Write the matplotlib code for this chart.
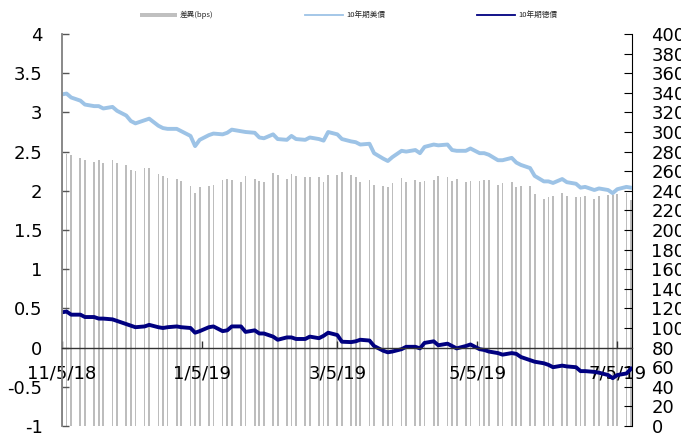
import numpy as np
import pandas as pd
import matplotlib
matplotlib.use("Agg")
import matplotlib.pyplot as plt
from matplotlib.lines import Line2D
from matplotlib.patches import Rectangle

plt.rcParams['axes.unicode_minus'] = False

# trading days (every 2nd business day) from 11/5/18 to 7/11/19
dates = pd.date_range('2018-11-05', '2019-07-11', freq='2B')

# 10Y US treasury yield (%)
us_10y = [3.23, 3.24, 3.19, 3.15, 3.10, 3.08, 3.08, 3.05, 3.07, 3.02,
          2.96, 2.89, 2.86, 2.90, 2.92, 2.83, 2.80, 2.79, 2.79, 2.76,
          2.70, 2.57, 2.65, 2.71, 2.73, 2.72, 2.74, 2.78, 2.76, 2.75,
          2.74, 2.68, 2.67, 2.72, 2.66, 2.65, 2.70, 2.66, 2.65, 2.68,
          2.66, 2.64, 2.75, 2.72, 2.66, 2.63, 2.62, 2.59, 2.60, 2.48,
          2.41, 2.38, 2.43, 2.51, 2.50, 2.52, 2.48, 2.56, 2.59, 2.58,
          2.59, 2.52, 2.51, 2.51, 2.54, 2.48, 2.48, 2.46, 2.39, 2.39,
          2.42, 2.36, 2.33, 2.29, 2.19, 2.12, 2.12, 2.10, 2.15, 2.11,
          2.09, 2.04, 2.05, 2.01, 2.03, 2.01, 1.97, 2.02, 2.05, 2.04]

# 10Y German bund yield (%)
de_10y = [0.45, 0.46, 0.42, 0.42, 0.39, 0.39, 0.37, 0.37, 0.36, 0.34,
          0.30, 0.28, 0.26, 0.27, 0.29, 0.26, 0.25, 0.26, 0.27, 0.26,
          0.25, 0.19, 0.21, 0.26, 0.27, 0.21, 0.22, 0.27, 0.27, 0.20,
          0.22, 0.18, 0.18, 0.14, 0.10, 0.13, 0.13, 0.11, 0.11, 0.14,
          0.12, 0.15, 0.19, 0.16, 0.075, 0.07, 0.08, 0.10, 0.09, 0.02,
          -0.04, -0.06, -0.05, -0.02, 0.01, 0.01, -0.01, 0.06, 0.08, 0.03,
          0.05, 0.02, -0.01, 0.02, 0.04, -0.02, -0.03, -0.05, -0.07, -0.09,
          -0.07, -0.08, -0.12, -0.16, -0.18, -0.20, -0.22, -0.25, -0.23, -0.24,
          -0.25, -0.30, -0.30, -0.31, -0.32, -0.35, -0.39, -0.35, -0.33, -0.27]

# spread (bps)
spread_bps = [278, 278, 277, 273, 271, 269, 271, 268, 271, 268,
              266, 261, 260, 263, 263, 257, 255, 253, 252, 250,
              245, 238, 244, 245, 246, 251, 252, 251, 249, 255,
              252, 250, 249, 258, 256, 252, 257, 255, 254, 254,
              254, 249, 256, 256, 259, 256, 254, 249, 251, 246,
              245, 244, 248, 253, 249, 251, 249, 250, 251, 255,
              254, 250, 252, 249, 250, 250, 251, 251, 246, 248,
              249, 244, 245, 245, 237, 232, 234, 235, 238, 235,
              234, 234, 235, 232, 235, 236, 236, 237, 238, 231]

tick_dates = ['2018-11-05', '2019-01-05', '2019-03-05', '2019-05-05', '2019-07-05']
tick_labels = ['11/5/18', '1/5/19', '3/5/19', '5/5/19', '7/5/19']

W, H = 681, 434
fig = plt.figure(figsize=(W / 100, H / 100), dpi=100)
ax = fig.add_axes([62 / W, 8 / H, 570 / W, 392 / H])
ax_r = ax.twinx()

# spread bars on the right axis, behind the lines
ax_r.bar(dates, spread_bps, width=0.75, color='#bdbdbd', linewidth=0)
ax_r.set_ylim(0, 400)
ax_r.set_yticks(np.arange(0, 401, 20))
ax_r.tick_params(axis='y', direction='in', length=6, width=0.8, pad=14,
                 labelsize=13, colors='black')
for s in ['top', 'left', 'bottom']:
    ax_r.spines[s].set_visible(False)
ax_r.spines['right'].set_color('black')
ax_r.spines['right'].set_linewidth(0.8)

ax.set_zorder(ax_r.get_zorder() + 1)
ax.patch.set_visible(False)

ax.plot(dates, us_10y, color='#9dc3e6', lw=2.8, solid_joinstyle='round')
ax.plot(dates, de_10y, color='#000080', lw=2.8, solid_joinstyle='round')

ax.set_ylim(-1, 4)
ax.set_yticks(np.arange(-1, 4.01, 0.5))
ax.set_yticklabels(['%g' % v for v in np.arange(-1, 4.01, 0.5)])
ax.set_xlim(pd.Timestamp('2018-11-05'), pd.Timestamp('2019-07-11 10:00'))
ax.set_xticks(pd.to_datetime(tick_dates))
ax.set_xticklabels(tick_labels)

ax.spines['top'].set_visible(False)
ax.spines['right'].set_visible(False)
ax.spines['left'].set_color('#808080')
ax.spines['left'].set_linewidth(1.3)
ax.spines['bottom'].set_position(('data', 0))
ax.spines['bottom'].set_color('#333333')
ax.spines['bottom'].set_linewidth(1.0)
ax.tick_params(axis='y', direction='in', length=5, width=1, color='#555555',
               pad=14, labelsize=13)
ax.tick_params(axis='x', direction='in', length=5, width=1, color='#333333',
               pad=12, labelsize=13)

# legend across the top
leg_font = dict(family=['Noto Sans CJK TC', 'DejaVu Sans'], fontsize=5.5,
                va='center', ha='left', color='#262626')
yl = 1 - 15 / H
fig.add_artist(Rectangle((140 / W, 1 - 17 / H), 37 / W, 4 / H,
                         transform=fig.transFigure, color='#c0c0c0', lw=0))
fig.text(180 / W, yl, '差異(bps)', **leg_font)
fig.add_artist(Line2D([305 / W, 343 / W], [yl, yl], transform=fig.transFigure,
                      color='#9dc3e6', lw=1.3))
fig.text(346 / W, yl, '10年期美債', **leg_font)
fig.add_artist(Line2D([477 / W, 515 / W], [yl, yl], transform=fig.transFigure,
                      color='#000080', lw=1.3))
fig.text(518 / W, yl, '10年期德債', **leg_font)

fig.savefig('out.png', dpi=100)
